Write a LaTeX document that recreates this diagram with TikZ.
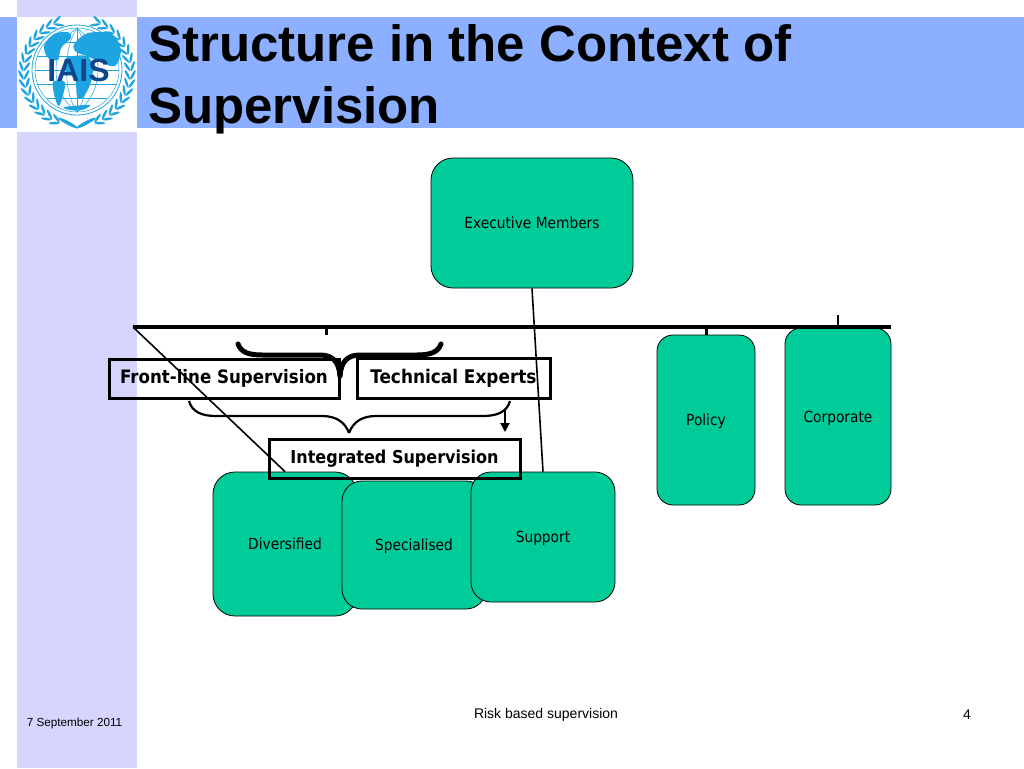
\documentclass[tikz,border=0pt]{standalone}
\usepackage{fontspec}
\usepackage{xcolor}
\usepackage{tikz}
\usetikzlibrary{arrows.meta,calc,shapes.geometric}
\setmainfont{DejaVu Sans Condensed}
\newfontfamily\arialfont{Liberation Sans}
\definecolor{bandB}{RGB}{140,176,255}
\definecolor{sideL}{RGB}{213,213,255}
\definecolor{boxG}{RGB}{0,204,153}
\definecolor{logoC}{RGB}{30,165,225}
\definecolor{logoD}{RGB}{15,70,140}

\begin{document}
\begin{tikzpicture}[
  x=1pt,y=-1pt,
  grn/.style={rectangle,draw=black,line width=0.8pt,fill=boxG,inner sep=0pt,text height=11pt,text depth=0pt,font=\fontsize{15.3}{18}\selectfont},
  lbl/.style={rectangle,draw=black,line width=3pt,inner sep=0pt,font=\fontsize{18.5}{22}\selectfont\bfseries},
  foot/.style={inner sep=0pt,font=\arialfont\fontsize{14}{16}\selectfont},
  bar/.style={line width=3.5pt},
  thn/.style={line width=1.6pt},
  brc/.style={line width=2.2pt},
  brcb/.style={line width=5pt,line cap=round},
  arw/.style={-{Triangle[length=9pt,width=9pt]},line width=2pt},
  land/.style={fill=logoC,draw=none},
  grid/.style={logoC,line width=0.5pt},
  leaf/.style={ellipse,fill=logoC,minimum width=11pt,minimum height=2.6pt,inner sep=0pt}
]
  \useasboundingbox (0,0) rectangle (1024,768);
  % ---------------- BACKGROUND ----------------
  \fill[sideL] (17,0) rectangle (137,768);
  \fill[bandB] (0,17) rectangle (1024,128);
  \fill[white] (17,17) rectangle (137,132);
  % ---------------- LOGO ----------------
  \draw[logoC,line width=0.8pt] (77,70) circle (45);
  \draw[logoC,line width=0.5pt] (77,70) circle (42);
  \foreach \r in {14,28}{\draw[grid] (77,28) .. controls (77-\r,48) and (77-\r,92) .. (77,112);
    \draw[grid] (77,28) .. controls (77+\r,48) and (77+\r,92) .. (77,112);}
  \draw[grid] (77,28) -- (77,112);
  \foreach \y/\w in {42/30,56/40,70/42,84/40,98/30}{\draw[grid] (77-\w,\y) -- (77+\w,\y);}
  \fill[land] plot[smooth cycle] coordinates {(74,44) (88,33) (112,34) (121,50) (115,66) (100,62) (87,56) (76,52)};
  \fill[land] plot[smooth cycle] coordinates {(44,46) (54,34) (68,32) (71,38) (61,48) (58,60) (48,58)};
  \fill[land] plot[smooth cycle] coordinates {(53,82) (65,82) (63,95) (59,106) (55,98)};
  \fill[land] plot[smooth cycle] coordinates {(66,58) (87,56) (93,68) (90,85) (82,99) (77,96) (75,78) (66,72)};
  \fill[land] plot[smooth cycle] coordinates {(64,107) (90,105) (82,110) (70,110)};
  \foreach \a in {111,120,...,250}{
    \node[leaf,rotate=\a+90-30] at ($(77,72)+(\a:50.5 and -50.5)$) {};
    \node[leaf,rotate=-\a-90+30] at ($(77,72)+(180-\a:50.5 and -50.5)$) {};
    \node[leaf,rotate=\a+90+25] at ($(77,72)+(\a:56 and -56)$) {};
    \node[leaf,rotate=-\a-90-25] at ($(77,72)+(180-\a:56 and -56)$) {};}
  \foreach \x/\r in {68/-28,86/28}{
    \node[leaf,minimum width=22pt,minimum height=3.5pt,rotate=\r] at (\x,123) {};}
  \node[inner sep=0pt,text=logoD,font=\arialfont\fontsize{32}{33}\selectfont\bfseries] (iais) at (78.5,70) {IAIS};
  % ---------------- TITLE ----------------
  \node[anchor=base west,inner sep=0pt,font=\arialfont\fontsize{51}{56}\selectfont\bfseries] (ttl1) at (148,62) {Structure in the Context of};
  \node[anchor=base west,inner sep=0pt,font=\arialfont\fontsize{51}{56}\selectfont\bfseries] (ttl2) at (148,123) {Supervision};
  % ---------------- BOXES ----------------
  \foreach \id/\x/\y/\w/\h/\rad/\txt in {exec/532/223/202/130/22/Executive Members,
    policy/706/420/98/170/16/Policy,corp/838/416.5/106/177/16/Corporate,
    divs/285/544/144/144/22/Diversified,spec/414/545/144/128/20/Specialised,supp/543/537/144/130/20/Support}{
    \node[grn,rounded corners=\rad pt,minimum width=\w pt,minimum height=\h pt] (\id) at (\x,\y) {\txt};}
  % ---------------- BAR ----------------
  \coordinate (barL) at (133,327);
  \coordinate (barR) at (891,327);
  \coordinate (tkA) at (326,327);
  \coordinate (tkAe) at (326,335);
  \coordinate (tkB) at (706,327);
  \coordinate (tkC) at (838,315);
  \draw[bar] (barL) -- (barR);
  \draw[line width=3pt] (tkA) -- (tkAe);
  \draw[line width=3pt] (tkB) -- (policy.north);
  \draw[line width=1.4pt] (tkC) -- (corp.north);
  \draw[thn] (exec.south) -- (supp.north);
  \draw[thn] (barL) -- (divs.north);
  % ---------------- LABELS ----------------
  \node[lbl,minimum width=230pt,minimum height=39pt] (front) at (224,378.5) {Front-line Supervision};
  \node[lbl,minimum width=193pt,minimum height=40pt,font=\fontsize{18.8}{22}\selectfont\bfseries] (tech) at (453.5,378) {Technical Experts};
  \node[lbl,minimum width=251pt,minimum height=39pt,font=\fontsize{17.8}{22}\selectfont\bfseries] (intg) at (394.5,458.5) {Integrated Supervision};
  % ---------------- BRACES ----------------
  \coordinate (bA) at (238,344);
  \coordinate (bB) at (441,344);
  \coordinate (bT) at (340,376);
  \draw[brcb] (bA) .. controls (241,352) and (248,355) .. (262,355) -- (320,355) .. controls (333,355) and (339,362) .. (bT);
  \draw[brcb] (bB) .. controls (438,352) and (431,355) .. (417,355) -- (360,355) .. controls (347,355) and (341,362) .. (bT);
  \coordinate (cA) at (189,401);
  \coordinate (cB) at (510,401);
  \coordinate (cT) at (349,433);
  \draw[brc] (cA) .. controls (192,412) and (202,416) .. (216,416) -- (322,416) .. controls (336,416) and (345,422) .. (cT);
  \draw[brc] (cB) .. controls (507,412) and (497,416) .. (483,416) -- (376,416) .. controls (362,416) and (353,422) .. (cT);
  \coordinate (aS) at (505,410);
  \coordinate (aE) at (505,432);
  \draw[arw] (aS) -- (aE);
  % ---------------- FOOTER ----------------
  \node[foot,font=\arialfont\fontsize{11.7}{14}\selectfont] (fd) at (74.5,723) {7 September 2011};
  \node[foot] (ft) at (546,715) {Risk based supervision};
  \node[foot] (fn) at (967,715) {4};
\end{tikzpicture}
\end{document}
